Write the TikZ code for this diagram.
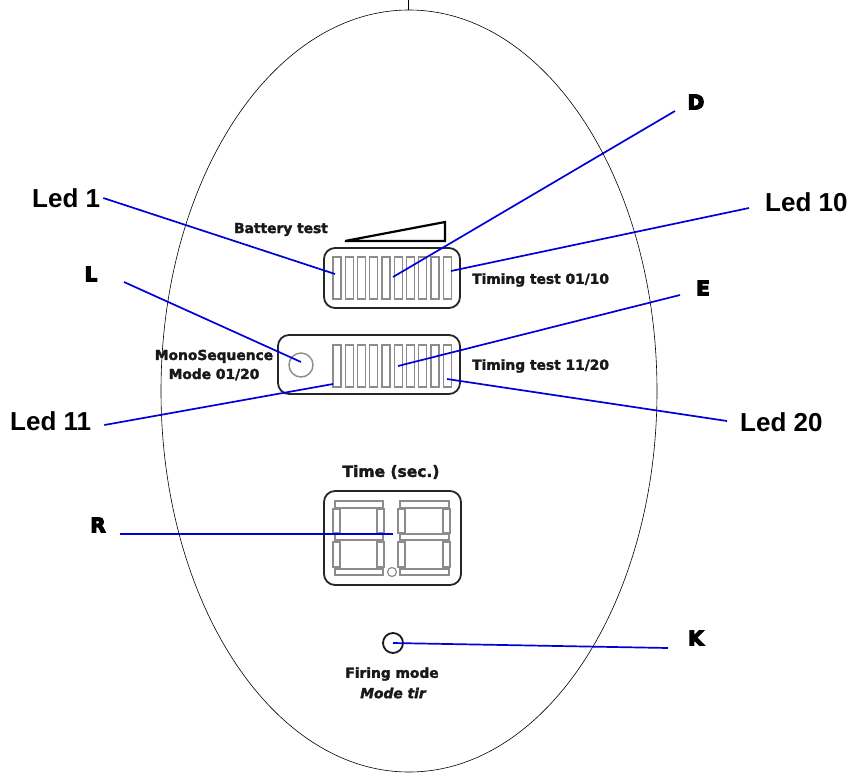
\documentclass[tikz,border=0pt]{standalone}
\usepackage{fontspec}
\setmainfont{Liberation Sans}
\newfontfamily\widefont[BoldFeatures={FakeBold=2.2},BoldItalicFeatures={FakeBold=2.2}]{DejaVu Sans}
\newfontfamily\blockfont[BoldFeatures={FakeBold=6}]{DejaVu Sans}
\definecolor{leaderblue}{RGB}{0,0,220}
\definecolor{seggray}{RGB}{140,140,140}
\tikzset{
  bezel/.style={draw=black!85,line width=1.8pt,rounded corners=11pt},
  segbar/.style={draw=seggray,line width=1.4pt},
  leader/.style={draw=leaderblue,line width=1.7pt},
  ledlabel/.style={font=\fontsize{26}{28}\bfseries\selectfont,inner sep=0pt},
  letterlabel/.style={font=\blockfont\fontsize{20}{22}\bfseries\selectfont,inner sep=0pt},
  paneltext/.style={font=\widefont\fontsize{13.8}{19}\bfseries\selectfont,inner sep=0pt,align=center,text=black!90},
}
\begin{document}
\begin{tikzpicture}[x=1pt,y=-1pt]
  \useasboundingbox (0,0) rectangle (852,772);
  \def\BarW{8}
  \def\BarPitch{12.25}

  % outline
  \draw[line width=0.6pt] (408,0) -- (408,10);
  \draw[line width=0.6pt] (409,391) ellipse [x radius=248,y radius=381];

  % upper led row
  \node[bezel,minimum width=136pt,minimum height=60pt] (upperpanel) at (392,278) {};
  \foreach \i in {0,...,9}
    \draw[segbar] (333+\i*\BarPitch,257) rectangle (333+\BarW+\i*\BarPitch,299);
  \draw[line width=2.2pt,line join=miter] (345,241) -- (445,222) -- (445,241) -- cycle;
  \node[paneltext] (batterytext) at (281,229.5) {Battery test};
  \node[paneltext,anchor=west] (timingone) at (472,280) {Timing test 01/10};

  % lower led row
  \node[bezel,minimum width=182pt,minimum height=59pt] (lowerpanel) at (369,364.5) {};
  \foreach \i in {0,...,9}
    \draw[segbar] (333+\i*\BarPitch,345) rectangle (333+\BarW+\i*\BarPitch,387);
  \node[circle,draw=seggray,line width=1.4pt,minimum size=24pt,inner sep=0pt] (monolamp) at (301,365) {};
  \node[paneltext] (monotext) at (214,365) {MonoSequence\\Mode 01/20};
  \node[paneltext,anchor=west] (timingtwo) at (472,366) {Timing test 11/20};

  % time display
  \node[paneltext,font=\widefont\fontsize{15.5}{19}\bfseries\selectfont] (timetext) at (391,472) {Time (sec.)};
  \node[bezel,minimum width=137pt,minimum height=94pt] (timepanel) at (392.5,538) {};
  \foreach \dx/\dw in {0/0,65/1} {
    \draw[segbar] (335+\dx,501) rectangle (383+\dx+\dw,508);
    \draw[segbar] (335+\dx,534) rectangle (383+\dx+\dw,540);
    \draw[segbar] (335+\dx,569) rectangle (383+\dx+\dw,575);
    \foreach \vy/\vh in {509/24,542/25} {
      \draw[segbar] (333+\dx,\vy) rectangle (340+\dx,\vy+\vh);
      \draw[segbar] (377+\dx+\dw,\vy) rectangle (384+\dx+\dw,\vy+\vh);
    }
  }
  \node[circle,draw=seggray,line width=1.2pt,minimum size=9pt,inner sep=0pt] (dotlamp) at (392,572) {};

  % firing mode
  \node[circle,draw=black!90,line width=1.8pt,minimum size=20pt,inner sep=0pt] (firinglamp) at (393,643) {};
  \node[paneltext] (firingtext) at (392,674) {Firing mode};
  \node[paneltext,font=\widefont\fontsize{13.8}{19}\bfseries\itshape\selectfont] (modetext) at (393,693) {Mode tir};

  % callouts
  \node[ledlabel,anchor=west] (ledone) at (32,198) {Led 1};
  \node[ledlabel,anchor=west] (ledten) at (765,202) {Led 10};
  \node[ledlabel,anchor=west] (ledeleven) at (10,421) {Led 11};
  \node[ledlabel,anchor=west] (ledtwenty) at (740,422) {Led 20};
  \node[letterlabel] (letterd) at (696,102) {D};
  \node[letterlabel] (letterl) at (91,274) {L};
  \node[letterlabel] (lettere) at (703,288) {E};
  \node[letterlabel] (letterr) at (98,525) {R};
  \node[letterlabel] (letterk) at (696,638) {K};

  \coordinate (ledonetip) at (335,274);
  \coordinate (dtip) at (393,277);
  \coordinate (ledtentip) at (451,271);
  \coordinate (ltip) at (301,362);
  \coordinate (etip) at (398,366);
  \coordinate (ledeleventip) at (333,384);
  \coordinate (ledtwentytip) at (447,379);
  \coordinate (rtip) at (393,534);

  \draw[leader] ([xshift=3pt]ledone.east) -- (ledonetip);
  \draw[leader] ([shift={(-21,9)}]letterd.center) -- (dtip);
  \draw[leader] ([shift={(-16,6)}]ledten.west) -- (ledtentip);
  \draw[leader] ([shift={(33,8)}]letterl.center) -- (ltip);
  \draw[leader] ([shift={(-23,7)}]lettere.center) -- (etip);
  \draw[leader] ([shift={(13,4)}]ledeleven.east) -- (ledeleventip);
  \draw[leader] ([shift={(-13,-1)}]ledtwenty.west) -- (ledtwentytip);
  \draw[leader] ([shift={(22,9)}]letterr.center) -- (rtip);
  \draw[leader] ([shift={(-28,10)}]letterk.center) -- (firinglamp.center);
\end{tikzpicture}
\end{document}
